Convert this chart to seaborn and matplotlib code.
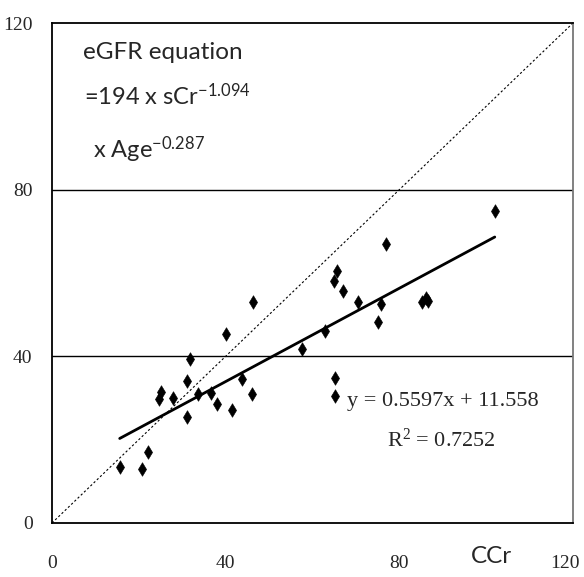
import numpy as np
import pandas as pd
import matplotlib
matplotlib.use("Agg")
import matplotlib.pyplot as plt
import matplotlib.transforms as mtransforms
import seaborn as sns

# Creatinine clearance (CCr) vs estimated GFR per patient
ccr = [15.6, 20.8, 22.1, 24.7, 25.2, 27.9, 31.0, 31.1, 31.7, 33.7, 36.6,
       38.1, 40.0, 41.5, 43.7, 46.0, 46.4, 57.7, 62.9, 64.9, 65.2, 65.1,
       65.7, 67.0, 70.4, 75.1, 75.9, 76.9, 85.3, 86.2, 86.7, 102.0]
egfr = [13.4, 13.0, 17.0, 29.7, 31.4, 29.9, 34.2, 25.4, 39.4, 30.9, 31.3,
        28.6, 45.4, 27.1, 34.5, 31.0, 53.0, 41.7, 46.2, 58.0, 34.8, 30.6,
        60.5, 55.7, 53.0, 48.3, 52.5, 67.0, 53.0, 54.0, 53.3, 74.9]

# Linear fit reported on the chart
slope = 0.5597
intercept = 11.558
r_squared = 0.7252

x_ticks = [0, 40, 80, 120]
y_ticks = [0, 40, 80, 120]

sns.set_style("white")
plt.rcParams["font.family"] = ["Liberation Serif", "DejaVu Serif"]
plt.rcParams["mathtext.default"] = "regular"

df = pd.DataFrame({"CCr": ccr, "eGFR": egfr})

fig = plt.figure(figsize=(5.84, 5.77), dpi=100)
ax = fig.add_axes([0.089, 0.0936, 0.892, 0.8664])

# reference lines at 40 and 80
for yv in (40, 80):
    ax.axhline(yv, color="black", lw=1.0, zorder=1)

# identity line
ax.plot([0, 120], [0, 120], color="black", lw=0.8, ls=(0, (2, 2)), zorder=2)

# regression line over the observed CCr range
fit_x = np.array([min(ccr), max(ccr)])
fit_df = pd.DataFrame({"x": fit_x, "y": slope * fit_x + intercept})
sns.lineplot(data=fit_df, x="x", y="y", color="black", lw=2.0, ax=ax, zorder=3)

sns.scatterplot(data=df, x="CCr", y="eGFR", marker="d", s=48, color="black",
                edgecolor="black", linewidth=0.4, ax=ax, zorder=4)

ax.set_xlim(0, 120)
ax.set_ylim(0, 120)
ax.set_xticks(x_ticks)
ax.set_yticks(y_ticks)
ax.set_xticklabels([str(v) for v in x_ticks])
ax.set_yticklabels([str(v) for v in y_ticks])
ax.set_xlabel("")
ax.set_ylabel("")

ax.tick_params(axis="x", direction="in", length=8, width=1.2, color="#999999",
               pad=23, labelsize=14)
ax.tick_params(axis="y", length=0, pad=14, labelsize=14)

# keep the last x label inside the figure
last = ax.get_xticklabels()[-1]
last.set_horizontalalignment("right")
last.set_transform(last.get_transform() +
                   mtransforms.ScaledTranslation(5 / 72, 0, fig.dpi_scale_trans))

for side in ("left", "top", "bottom"):
    ax.spines[side].set_color("black")
    ax.spines[side].set_linewidth(1.3)
ax.spines["right"].set_color("#777777")
ax.spines["right"].set_linewidth(1.3)

sans = ["Lato", "DejaVu Sans"]
ax.text(7.1, 113, "eGFR equation", family=sans, fontsize=17.5,
        ha="left", va="center")
ax.text(7.4, 102.5, r"=194 x sCr$^{-1.094}$", family=sans, fontsize=17,
        ha="left", va="center")
ax.text(9.4, 89.5, r"x Age$^{-0.287}$", family=sans, fontsize=17,
        ha="left", va="center")

ax.text(90.1, 29.1, f"y = {slope}x + {intercept}", fontsize=16,
        ha="center", va="center")
ax.text(89.7, 19.9, f"R$^{{2}}$ = {r_squared}", fontsize=16,
        ha="center", va="center")

ax.text(101.2, -8.0, "CCr", family=sans, fontsize=17.5, ha="center",
        va="center", clip_on=False)

fig.savefig("out.png", dpi=100)
